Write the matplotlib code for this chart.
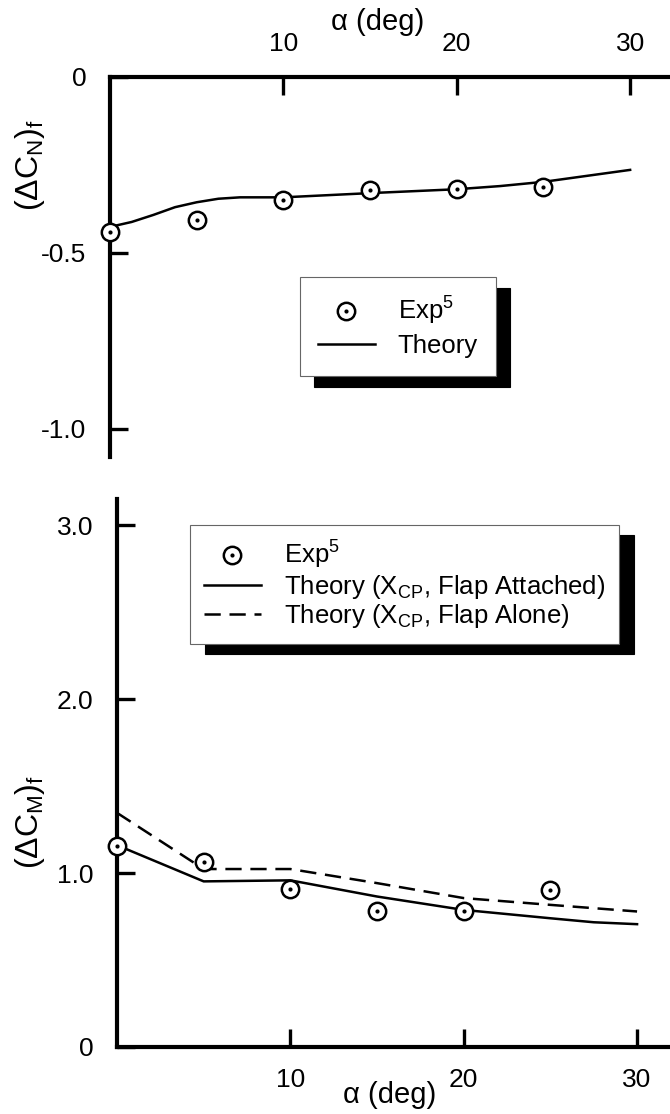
import matplotlib
matplotlib.use("Agg")
import matplotlib.pyplot as plt
from matplotlib.legend_handler import HandlerTuple

plt.rcParams['font.family'] = ['Liberation Sans', 'DejaVu Sans']
plt.rcParams['mathtext.fontset'] = 'custom'
plt.rcParams['mathtext.rm'] = 'Liberation Sans'
plt.rcParams['mathtext.it'] = 'Liberation Sans:italic'
plt.rcParams['mathtext.bf'] = 'Liberation Sans:bold'

# ---- data: flap normal-force increment ----
alpha_exp = [0, 5, 10, 15, 20, 25]
cn_exp = [-0.441, -0.406, -0.349, -0.321, -0.318, -0.313]
alpha_cn_theory = [0, 1.25, 2.5, 3.75, 5, 6.25, 7.5, 10, 15, 20, 22.5, 25, 30]
cn_theory = [-0.426, -0.412, -0.392, -0.370, -0.356, -0.346, -0.342, -0.342,
             -0.330, -0.319, -0.310, -0.298, -0.264]

# ---- data: flap moment increment ----
cm_exp = [1.158, 1.063, 0.910, 0.779, 0.783, 0.902]
alpha_cm_theory = [0, 5, 10, 15, 20, 25, 27.5, 30]
cm_attached = [1.16, 0.952, 0.958, 0.865, 0.788, 0.740, 0.717, 0.706]
cm_alone = [1.346, 1.023, 1.023, 0.942, 0.856, 0.817, 0.798, 0.779]

cn_ticks = [0, -0.5, -1.0]
cn_ticklabels = ['0', '-0.5', '-1.0']
cm_ticks = [0, 1.0, 2.0, 3.0]
cm_ticklabels = ['0', '1.0', '2.0', '3.0']
alpha_ticks = [10, 20, 30]
alpha_ticklabels = ['10', '20', '30']

W, H = 670, 1114
fig = plt.figure(figsize=(W / 100, H / 100), dpi=100)


def frac(x0, y0, w, h):
    """pixel box (top-left origin) -> figure fraction rect"""
    return [x0 / W, 1 - (y0 + h) / H, w / W, h / H]


TICK_FS = 19
SPINE_LW = 3.0

mk_open = dict(marker='o', ms=12.5, mfc='white', mec='black', mew=1.8,
               ls='none', clip_on=False, zorder=5)
mk_dot = dict(marker='o', ms=3, mfc='black', mec='black', mew=0,
              ls='none', clip_on=False, zorder=6)


def style_axis(ax, xside, yside):
    for s in ['top', 'bottom', 'left', 'right']:
        ax.spines[s].set_visible(s in (xside, yside))
        ax.spines[s].set_linewidth(SPINE_LW)
        ax.spines[s].set_capstyle('projecting')
    ax.tick_params(axis='both', direction='in', length=13, width=2.4,
                   labelsize=TICK_FS)
    ax.tick_params(axis='x', pad=15)
    ax.tick_params(axis='y', pad=17)
    ax.set_facecolor('none')


overlay = {tuple: HandlerTuple(ndivide=1, pad=0)}

# ---------------- top panel: (ΔC_N)_f ----------------
ax1 = fig.add_axes(frac(110, 77, 560, 380))
ax1.set_xlim(0, 32.3)
ax1.set_ylim(-1.08, 0)
style_axis(ax1, 'top', 'left')
ax1.xaxis.set_ticks_position('top')
ax1.set_xticks(alpha_ticks)
ax1.set_xticklabels(alpha_ticklabels)
ax1.set_yticks(cn_ticks)
ax1.set_yticklabels(cn_ticklabels)

th1, = ax1.plot(alpha_cn_theory, cn_theory, color='black', lw=1.8)
c1, = ax1.plot(alpha_exp, cn_exp, **mk_open)
d1, = ax1.plot(alpha_exp, cn_exp, **mk_dot)

leg1 = ax1.legend([(c1, d1), th1], ['Exp$^5$', 'Theory'],
                  handler_map=overlay,
                  loc='upper left', bbox_to_anchor=(300 / W, 1 - 277 / H),
                  bbox_transform=fig.transFigure, borderaxespad=0,
                  fontsize=18.5, frameon=True, fancybox=False,
                  handlelength=2.2, handletextpad=0.9, labelspacing=0.25,
                  borderpad=0.7,
                  shadow={'ox': 10, 'oy': -8, 'facecolor': 'black',
                          'edgecolor': 'black', 'alpha': 1})
leg1.get_frame().set_edgecolor('#666666')
leg1.get_frame().set_linewidth(0.8)

# ---------------- bottom panel: (ΔC_M)_f ----------------
ax2 = fig.add_axes(frac(117, 499, 553, 548))
ax2.set_xlim(0, 31.9)
ax2.set_ylim(0, 3.15)
style_axis(ax2, 'bottom', 'left')
ax2.set_xticks(alpha_ticks)
ax2.set_xticklabels(alpha_ticklabels)
ax2.set_yticks(cm_ticks)
ax2.set_yticklabels(cm_ticklabels)

l_att, = ax2.plot(alpha_cm_theory, cm_attached, color='black', lw=1.8)
l_alo, = ax2.plot(alpha_cm_theory, cm_alone, color='black', lw=1.8,
                  ls=(0, (6.5, 3.5)))
c2, = ax2.plot(alpha_exp, cm_exp, **mk_open)
d2, = ax2.plot(alpha_exp, cm_exp, **mk_dot)

leg2 = ax2.legend([(c2, d2), l_att, l_alo],
                  ['Exp$^5$',
                   r'Theory (X$_{\mathrm{CP}}$, Flap Attached)',
                   r'Theory (X$_{\mathrm{CP}}$, Flap Alone)'],
                  handler_map=overlay,
                  loc='upper left', bbox_to_anchor=(190 / W, 1 - 525 / H),
                  bbox_transform=fig.transFigure, borderaxespad=0,
                  fontsize=18.5, frameon=True, fancybox=False,
                  handlelength=2.2, handletextpad=0.9, labelspacing=0.05,
                  borderpad=0.55,
                  shadow={'ox': 11, 'oy': -7.5, 'facecolor': 'black',
                          'edgecolor': 'black', 'alpha': 1})
leg2.get_frame().set_edgecolor('#666666')
leg2.get_frame().set_linewidth(0.8)

# ---------------- axis titles ----------------
LBL_FS = 21
fig.text(378 / W, 1 - 22 / H, 'α (deg)', fontsize=LBL_FS,
         ha='center', va='center')
fig.text(390 / W, 1 - 1095 / H, 'α (deg)', fontsize=LBL_FS,
         ha='center', va='center')
fig.text(30 / W, 1 - 165 / H, r'(ΔC$_{\mathrm{N}}$)$_{\mathrm{f}}$',
         fontsize=23, rotation=90, ha='center', va='center')
fig.text(30 / W, 1 - 822 / H, r'(ΔC$_{\mathrm{M}}$)$_{\mathrm{f}}$',
         fontsize=23, rotation=90, ha='center', va='center')

fig.savefig('out.png', dpi=100, facecolor='white')
